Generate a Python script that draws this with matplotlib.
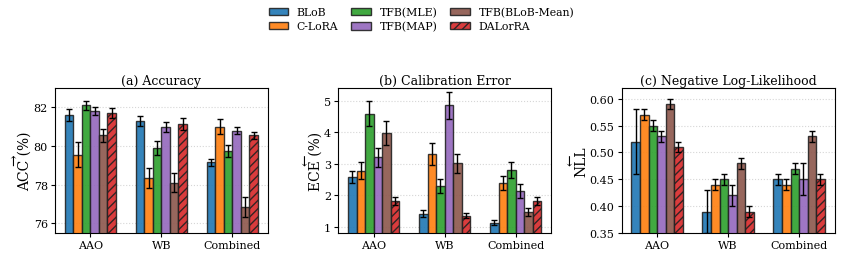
import matplotlib
matplotlib.use('Agg')
import matplotlib.pyplot as plt
import numpy as np

plt.rcParams['font.family'] = 'DejaVu Serif'
plt.rcParams['mathtext.fontset'] = 'dejavuserif'

groups = ['AAO', 'WB', 'Combined']
methods = ['BLoB', 'C-LoRA', 'TFB(MLE)', 'TFB(MAP)', 'TFB(BLoB-Mean)', 'DALorRA']
colors = ['tab:blue', 'tab:orange', 'tab:green', 'tab:purple', 'tab:brown', 'tab:red']

# rows = methods, cols = groups
acc = [[81.6, 81.3, 79.15],
       [79.55, 78.35, 81.0],
       [82.1, 79.9, 79.75],
       [81.8, 81.0, 80.8],
       [80.55, 78.1, 76.85],
       [81.7, 81.15, 80.55]]
acc_err = [[0.3, 0.25, 0.2],
           [0.65, 0.5, 0.4],
           [0.25, 0.35, 0.3],
           [0.2, 0.25, 0.2],
           [0.35, 0.5, 0.5],
           [0.25, 0.3, 0.2]]

ece = [[2.58, 1.42, 1.13],
       [2.78, 3.3, 2.38],
       [4.58, 2.3, 2.8],
       [3.2, 4.85, 2.13],
       [3.97, 3.02, 1.47],
       [1.82, 1.35, 1.82]]
ece_err = [[0.18, 0.1, 0.07],
           [0.27, 0.35, 0.22],
           [0.4, 0.22, 0.25],
           [0.3, 0.42, 0.22],
           [0.37, 0.3, 0.13],
           [0.12, 0.08, 0.13]]

nll = [[0.52, 0.39, 0.45],
       [0.57, 0.44, 0.44],
       [0.55, 0.45, 0.47],
       [0.53, 0.42, 0.45],
       [0.59, 0.48, 0.53],
       [0.51, 0.39, 0.45]]
nll_err = [[0.06, 0.04, 0.01],
           [0.01, 0.01, 0.01],
           [0.01, 0.01, 0.01],
           [0.01, 0.02, 0.03],
           [0.01, 0.01, 0.01],
           [0.01, 0.01, 0.01]]

panels = [
    ('(a) Accuracy', '$\\rightarrow$\nACC (%)', acc, acc_err, (75.5, 83.0), [76, 78, 80, 82], '%d'),
    ('(b) Calibration Error', '$\\leftarrow$\nECE (%)', ece, ece_err, (0.8, 5.4), [1, 2, 3, 4, 5], '%d'),
    ('(c) Negative Log-Likelihood', '$\\leftarrow$\nNLL', nll, nll_err, (0.35, 0.62), [0.35, 0.40, 0.45, 0.50, 0.55, 0.60], '%.2f'),
]

fig, axes = plt.subplots(1, 3, figsize=(8.43, 2.55), dpi=100)
fig.subplots_adjust(left=0.065, right=0.99, top=0.651, bottom=0.082, wspace=0.33)

x = np.arange(len(groups))
w = 0.12
for ax, (title, ylab, vals, errs, ylim, ticks, fmt) in zip(axes, panels):
    for i, m in enumerate(methods):
        ax.bar(x + (i - 2.5) * w, vals[i], w, yerr=errs[i], color=colors[i],
               edgecolor='#222222', linewidth=1, alpha=0.9, label=m,
               hatch='////' if m == 'DALorRA' else None,
               error_kw=dict(ecolor='black', elinewidth=1, capsize=2, capthick=1))
    ax.set_title(title, fontsize=9, pad=3)
    ax.set_ylabel(ylab, fontsize=10, labelpad=1, linespacing=0.75)
    ax.set_ylim(*ylim)
    ax.set_yticks(ticks)
    ax.yaxis.set_major_formatter(matplotlib.ticker.FormatStrFormatter(fmt))
    ax.set_xlim(-0.5, 2.5)
    ax.set_xticks(x)
    ax.set_xticklabels(groups)
    ax.tick_params(labelsize=8, length=3, pad=2)
    ax.grid(axis='y', linestyle=':', color='#bbbbbb', alpha=0.6)
    ax.set_axisbelow(True)

handles, labels = axes[0].get_legend_handles_labels()
fig.legend(handles, labels, loc='upper center', ncol=3, frameon=False,
           fontsize=7.8, bbox_to_anchor=(0.5, 0.995), columnspacing=1.2,
           handlelength=1.8, handletextpad=0.8, borderaxespad=0.2, labelspacing=0.4)

fig.savefig('out.png', dpi=100)
